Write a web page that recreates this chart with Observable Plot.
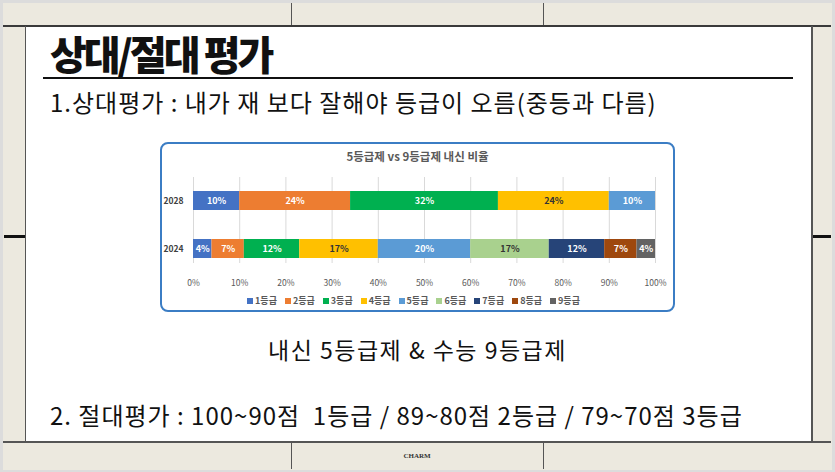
<!DOCTYPE html>
<html>
<head>
<meta charset="utf-8">
<script src="https://cdn.jsdelivr.net/npm/d3@7"></script>
<script src="https://cdn.jsdelivr.net/npm/@observablehq/plot@0.6"></script>
<style>
  html, body { margin: 0; padding: 0; }
  body { width: 835px; height: 472px; position: relative; overflow: hidden; background: #dcdcdc;
         font-family: "Noto Sans CJK KR", "Noto Sans", sans-serif; }
  .abs { position: absolute; }
  .txt { position: absolute; white-space: nowrap; color: #111; line-height: 1; }
  .lg-swatches { font-size: 9px !important; color: #595959 !important; font-weight: bold; min-height: 0 !important; margin: 0 !important; }
  .lg-swatch { margin-right: 8px !important; }
  .lg-swatch svg { margin-right: 2px !important; }
</style>
</head>
<body>
<div class="abs" style="left:3px;top:3px;width:829px;height:467px;background:#ece9df;"></div>
<!-- white slide panel -->
<div class="abs" style="left:26px;top:26px;width:786px;height:416px;background:#fff;"></div>
<!-- frame lines -->
<div class="abs" style="left:3px;top:25px;width:828px;height:2px;background:#3a3a3a;"></div>
<div class="abs" style="left:3px;top:441px;width:828px;height:2px;background:#555;"></div>
<div class="abs" style="left:25px;top:26px;width:1px;height:416px;background:#555;"></div>
<div class="abs" style="left:811px;top:26px;width:2px;height:416px;background:#555;"></div>
<div class="abs" style="left:291px;top:3px;width:1px;height:22px;background:#555;"></div>
<div class="abs" style="left:543px;top:3px;width:1px;height:22px;background:#555;"></div>
<div class="abs" style="left:291px;top:443px;width:1px;height:26px;background:#555;"></div>
<div class="abs" style="left:543px;top:443px;width:1px;height:26px;background:#555;"></div>
<div class="abs" style="left:4px;top:235px;width:21px;height:3px;background:#111;"></div>
<div class="abs" style="left:813px;top:235px;width:18px;height:3px;background:#111;"></div>
<div class="txt" style="left:391px;top:453px;width:52px;text-align:center;font-family:'Liberation Serif',serif;font-weight:bold;font-size:7px;color:#333;">CHARM</div>

<!-- slide texts -->
<div class="txt" id="title" style="left:50px;top:33px;font-size:40px;font-weight:900;letter-spacing:-3px;">상대/절대 평가</div>
<div class="abs" style="left:43px;top:77px;width:750px;height:2px;background:#111;"></div>
<div class="txt" style="left:50px;top:90px;font-size:24px;letter-spacing:1px;">1.상대평가 : 내가 재 보다 잘해야 등급이 오름(중등과 다름)</div>
<div class="txt" style="left:0px;width:835px;text-align:center;top:338px;font-size:23px;letter-spacing:1.5px;">내신 5등급제 &amp; 수능 9등급제</div>
<div class="txt" style="left:50px;top:403px;font-size:24px;letter-spacing:1px;">2. 절대평가 : 100~90점&nbsp; 1등급 / 89~80점 2등급 / 79~70점 3등급</div>

<!-- chart box -->
<div class="abs" style="left:160px;top:142px;width:511px;height:166px;background:#fff;border:2px solid #3b7dc4;border-radius:8px;"></div>
<div class="txt" style="left:160px;width:515px;text-align:center;top:151px;font-size:11.5px;font-weight:bold;color:#595959;">5등급제 vs 9등급제 내신 비율</div>
<div class="abs" id="chart" style="left:160px;top:142px;"></div>
<div class="abs" id="legend" style="left:160px;top:294px;width:515px;display:flex;justify-content:center;"></div>

<script>
const years = ["2028", "2024"];
const grades = ["1등급", "2등급", "3등급", "4등급", "5등급", "6등급", "7등급", "8등급", "9등급"];
const values2028 = [10, 24, 32, 24, 10];
const values2024 = [4, 7, 12, 17, 20, 17, 12, 7, 4];
const gradeColors = ["#4472c4", "#ed7d31", "#00b050", "#ffc000", "#5b9bd5", "#a9d18e", "#264478", "#9e480e", "#636363"];
const darkLabelGrades = ["4등급", "6등급"];
const xTicks = [0, 10, 20, 30, 40, 50, 60, 70, 80, 90, 100];

const data = [
  ...values2028.map((v, i) => ({year: "2028", grade: grades[i], value: v})),
  ...values2024.map((v, i) => ({year: "2024", grade: grades[i], value: v}))
];

const chart = Plot.plot({
  width: 515,
  height: 170,
  marginLeft: 33,
  marginRight: 20,
  marginTop: 35,
  marginBottom: 49,
  style: {fontFamily: "'Noto Sans CJK KR', sans-serif", background: "transparent", overflow: "visible"},
  x: {domain: [0, 100]},
  y: {domain: years, range: [20.2, 145], padding: 0.6},
  color: {domain: grades, range: gradeColors},
  marks: [
    Plot.gridX(xTicks, {stroke: "#d9d9d9", strokeOpacity: 1}),
    Plot.barX(data, Plot.stackX({x: "value", y: "year", fill: "grade"})),
    Plot.text(data, Plot.stackX({
      x: "value", y: "year",
      text: d => d.value + "%",
      fill: d => darkLabelGrades.includes(d.grade) ? "#333333" : "#ffffff",
      fontSize: 9, fontWeight: "bold"
    })),
    Plot.axisX({ticks: xTicks, tickSize: 0, tickPadding: 16, tickFormat: d => d + "%", fontSize: 8.5, fill: "#595959", label: null}),
    Plot.axisY({tickSize: 0, tickPadding: 10, fontSize: 8.5, fontWeight: "bold", fill: "#404040", label: null})
  ]
});
document.getElementById("chart").appendChild(chart);

const legend = Plot.legend({
  color: {domain: grades, range: gradeColors},
  legend: "swatches",
  swatchSize: 6,
  className: "lg",
  style: {fontFamily: "'Noto Sans CJK KR', sans-serif"}
});
document.getElementById("legend").appendChild(legend);
</script>
</body>
</html>
